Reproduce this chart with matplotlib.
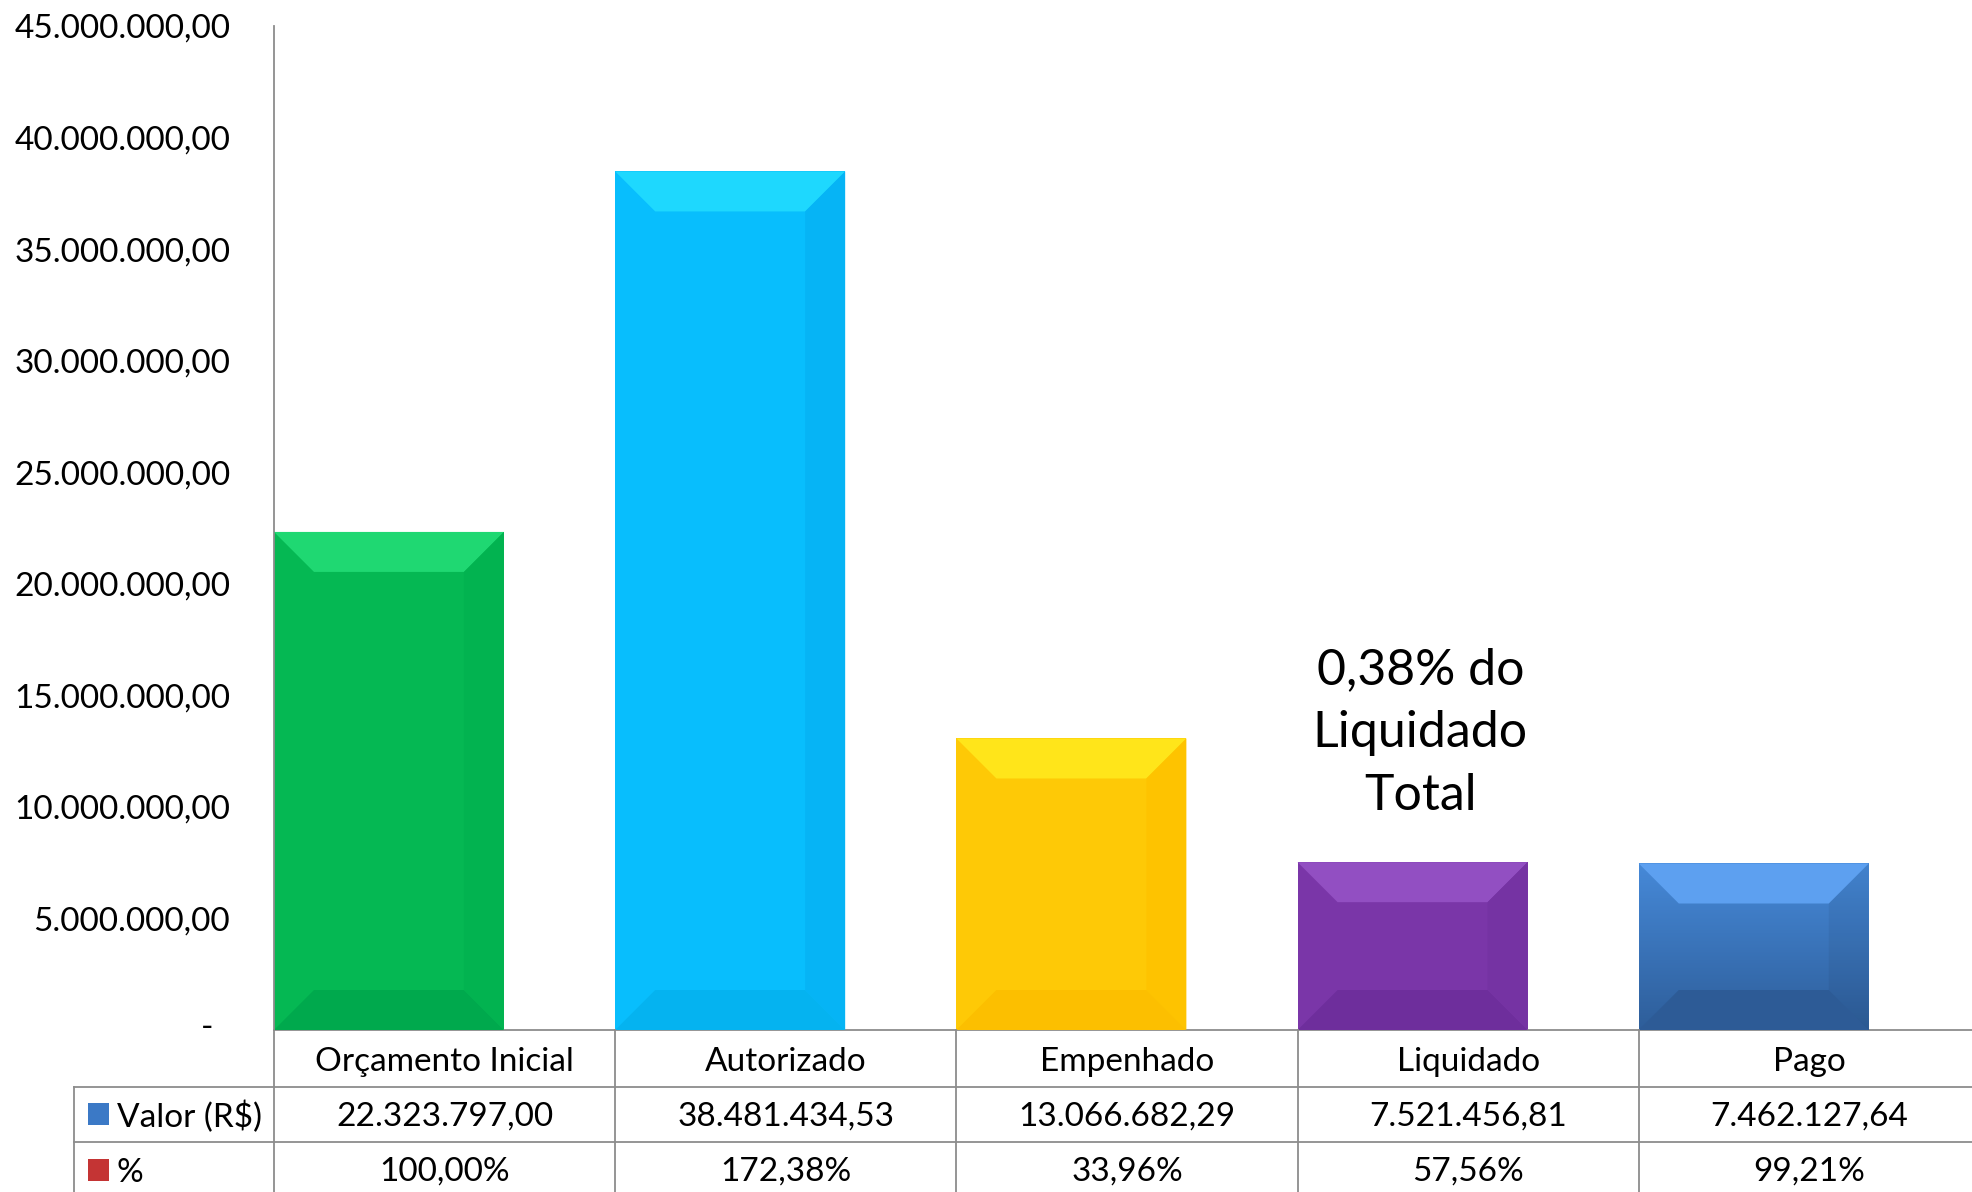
import numpy as np
import matplotlib
matplotlib.use("Agg")
import matplotlib.pyplot as plt
from matplotlib.patches import Polygon, Rectangle
from matplotlib.lines import Line2D
from matplotlib.colors import LinearSegmentedColormap
from matplotlib.ticker import FuncFormatter, MultipleLocator
from matplotlib.transforms import blended_transform_factory

plt.rcParams['font.family'] = ['Lato', 'DejaVu Sans']

categorias = ['Orçamento Inicial', 'Autorizado', 'Empenhado', 'Liquidado',
              'Pago']
valores = [22323797.00, 38481434.53, 13066682.29, 7521456.81, 7462127.64]
percentuais = [100.00, 172.38, 33.96, 57.56, 99.21]
series = ['Valor (R$)', '%']
anotacao = "0,38% do\nLiquidado\nTotal"

# main, top bevel, bottom bevel, right bevel
cores = [('#05B853', '#1FD872', '#00A94D', '#02B350'),
         ('#08BEFD', '#1ED8FE', '#05B3F0', '#06B4F5'),
         ('#FEC906', '#FFE51A', '#FCBF00', '#FEC300'),
         ('#7A36A8', '#924FC2', '#6E2E9C', '#7533A3'),
         (None, '#5DA0F0', '#2D5B96', None)]

W, H = 1972, 1192
GRAY = '#8C8C8C'
FS = 24


def br(v):
    return f"{v:,.2f}".replace(',', 'X').replace('.', ',').replace('X', '.')


def fy(y):
    return 1 - y / H


fig = plt.figure(figsize=(W / 100, H / 100), dpi=100)
# plot area runs a little past the right edge of the image
ax = fig.add_axes([274 / W, fy(1030), (1980 - 274) / W, (1030 - 26) / H])
ax.set_xlim(0, 5)
ax.set_ylim(0, 45e6)

bw = 0.674
bx = 40 / ((1980 - 274) / 5)
by = 40 * 45e6 / (1030 - 26)

bars = ax.bar(np.arange(len(valores)), valores, width=bw, align='edge',
              color=[c[0] or '#3A70B8' for c in cores], zorder=2)

for b, (main, top, bot, right) in zip(bars, cores):
    x0, w, h = b.get_x(), b.get_width(), b.get_height()
    if main is None:
        cmap = LinearSegmentedColormap.from_list('pago', ['#2E5E9A', '#4689D8'])
        ax.imshow(np.linspace(0, 1, 100)[:, None], extent=[x0, x0 + w, 0, h],
                  aspect='auto', cmap=cmap, origin='lower', zorder=3)
    ax.add_patch(Polygon([(x0, h), (x0 + w, h), (x0 + w - bx, h - by),
                          (x0 + bx, h - by)], color=top, lw=0, zorder=4))
    ax.add_patch(Polygon([(x0, 0), (x0 + w, 0), (x0 + w - bx, by),
                          (x0 + bx, by)], color=bot, lw=0, zorder=4))
    rpoly = [(x0 + w, 0), (x0 + w, h), (x0 + w - bx, h - by),
             (x0 + w - bx, by)]
    if right is None:
        ax.add_patch(Polygon(rpoly, color='black', alpha=0.05, lw=0, zorder=4))
    else:
        ax.add_patch(Polygon(rpoly, color=right, lw=0, zorder=4))

ax.text(3.36, 13.3e6, anotacao, ha='center', va='center', fontsize=36,
        linespacing=1.46, zorder=5)

ax.yaxis.set_major_locator(MultipleLocator(5e6))
ax.yaxis.set_major_formatter(
    FuncFormatter(lambda v, p: '' if v == 0 else br(v)))
ax.tick_params(axis='y', length=0, pad=31.5, labelsize=FS)
ax.set_xticks([])
for s in ['top', 'right']:
    ax.spines[s].set_visible(False)
for s in ['left', 'bottom']:
    ax.spines[s].set_color(GRAY)
    ax.spines[s].set_linewidth(1.3)
fig.text(207 / W, fy(1028), '-', ha='center', va='center', fontsize=FS)

# data table below the axis
tr = blended_transform_factory(ax.transData, fig.transFigure)
for i in range(len(categorias) + 1):
    fig.add_artist(Line2D([i, i], [fy(1030), 0], transform=tr, color=GRAY,
                          lw=1.3))
fig.add_artist(Line2D([74 / W, 74 / W], [fy(1087), 0], color=GRAY, lw=1.3))
for y in [1087, 1142]:
    fig.add_artist(Line2D([74 / W, 1], [fy(y), fy(y)], color=GRAY, lw=1.3))

for i, (cat, v, p) in enumerate(zip(categorias, valores, percentuais)):
    fig.text(i + 0.5, fy(1062), cat, transform=tr, ha='center', va='center',
             fontsize=FS)
    fig.text(i + 0.5, fy(1117), br(v), transform=tr, ha='center',
             va='center', fontsize=FS)
    fig.text(i + 0.5, fy(1172), br(p) + '%', transform=tr, ha='center',
             va='center', fontsize=FS)

for (nome, cor, y) in zip(series, ['#3B79C6', '#C43434'], [1114, 1170]):
    fig.add_artist(Rectangle((88 / W, fy(y + 11)), 21 / W, 22 / H,
                             transform=fig.transFigure, color=cor, lw=0))
    fig.text(117 / W, fy(y + 3), nome, ha='left', va='center', fontsize=FS)

fig.savefig('out.png', dpi=100)
